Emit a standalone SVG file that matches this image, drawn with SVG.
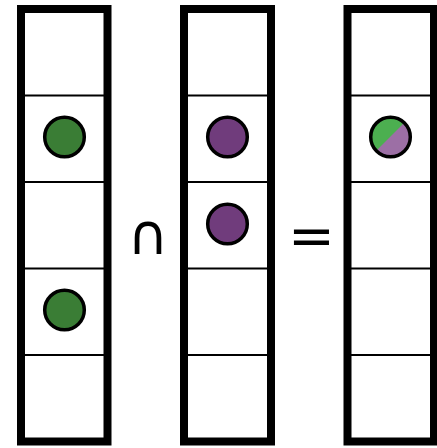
<svg xmlns="http://www.w3.org/2000/svg" width="437" height="448" viewBox="0 0 437 448">
<style>
.frame{fill:none;stroke:#000;stroke-width:8}
.sep{stroke:#000;stroke-width:2}
.dot{stroke:#000;stroke-width:3.5}
.g{fill:#3a7d35}
.p{fill:#703c7c}
.op{font-family:"DejaVu Sans",sans-serif;fill:#000;text-anchor:middle}
</style>
<defs>
<clipPath id="split"><circle cx="390.5" cy="137" r="19.8"/></clipPath>
</defs>
<rect width="437" height="448" fill="#fff"/>
<g id="colA">
<line class="sep" x1="21" y1="95.5" x2="107.5" y2="95.5"/>
<line class="sep" x1="21" y1="182" x2="107.5" y2="182"/>
<line class="sep" x1="21" y1="268.5" x2="107.5" y2="268.5"/>
<line class="sep" x1="21" y1="355" x2="107.5" y2="355"/>
<rect class="frame" x="21" y="9" width="86.5" height="432.5"/>
</g>
<g id="colB">
<line class="sep" x1="184" y1="95.5" x2="271" y2="95.5"/>
<line class="sep" x1="184" y1="182" x2="271" y2="182"/>
<line class="sep" x1="184" y1="268.5" x2="271" y2="268.5"/>
<line class="sep" x1="184" y1="355" x2="271" y2="355"/>
<rect class="frame" x="184" y="9" width="87" height="432.5"/>
</g>
<g id="colC">
<line class="sep" x1="347.5" y1="95.5" x2="434" y2="95.5"/>
<line class="sep" x1="347.5" y1="182" x2="434" y2="182"/>
<line class="sep" x1="347.5" y1="268.5" x2="434" y2="268.5"/>
<line class="sep" x1="347.5" y1="355" x2="434" y2="355"/>
<rect class="frame" x="347.5" y="9" width="86.5" height="432.5"/>
</g>
<g id="dotA1"><circle class="dot g" cx="64.5" cy="137" r="19.8"/></g>
<g id="dotA2"><circle class="dot g" cx="64.5" cy="310" r="19.8"/></g>
<g id="dotB1"><circle class="dot p" cx="227.5" cy="137" r="19.8"/></g>
<g id="dotB2"><circle class="dot p" cx="227.5" cy="224" r="19.8"/></g>
<g id="dotC1">
<g clip-path="url(#split)">
<rect x="368" y="114" width="46" height="46" fill="#4caf50"/>
<polygon points="414,113 414,161 366,161" fill="#9c6fa5"/>
</g>
<circle cx="390.5" cy="137" r="19.8" fill="none" stroke="#000" stroke-width="3.5"/>
</g>
<g id="operators">
<text class="op" x="148" y="254" font-size="56">∩</text>
<text class="op" x="311.5" y="255" font-size="56">=</text>
</g>
<g id="connectors"/>
</svg>
